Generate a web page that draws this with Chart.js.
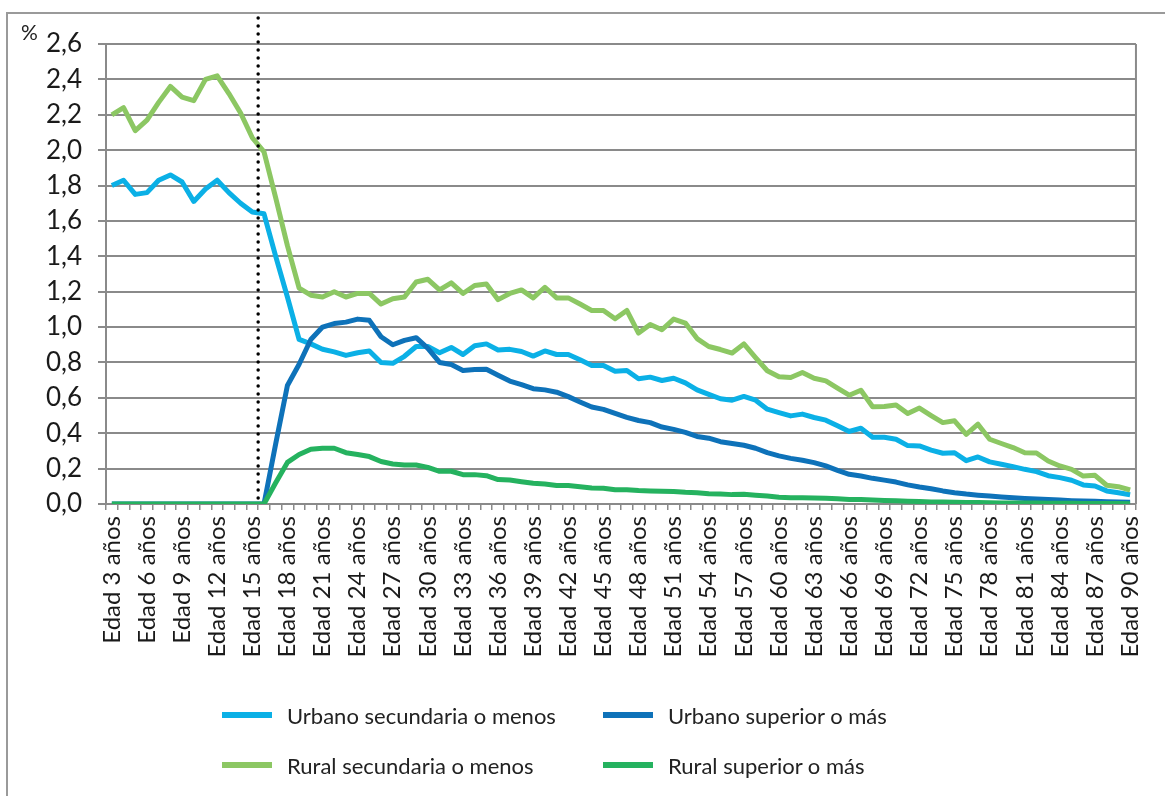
<!DOCTYPE html>
<html lang="es">
<head>
<meta charset="utf-8">
<title>Distribución por edad</title>
<script src="https://cdn.jsdelivr.net/npm/chart.js@4.4.1/dist/chart.umd.min.js"></script>
<style>
  body { margin: 0; background: #fff; font-family: Lato, "Open Sans", sans-serif; }
  #wrap { position: relative; width: 1165px; height: 796px; overflow: hidden; }
  #frame { position: absolute; left: 6px; top: 12px; width: 1200px; height: 900px;
           border-left: 2px solid #9a9a9a; border-top: 2px solid #9a9a9a; }
  #pct { position: absolute; left: 21px; top: 19px; font-size: 21px; color: #222; }
  #legend { position: absolute; left: 222px; top: 690px; display: grid;
            grid-template-columns: 381px auto; grid-auto-rows: 50px; }
  .item { display: flex; align-items: center; font-size: 22px; color: #222; }
  .swatch { display: inline-block; width: 50px; height: 6px; margin-right: 15px; }
</style>
</head>
<body>
<div id="wrap">
  <div id="frame"></div>
  <canvas id="lineChart" width="1165" height="796"></canvas>
  <div id="pct">%</div>
  <div id="legend"></div>
</div>
<script>
// categories: Edad 3 años ... Edad 90 años
const ages = [];
for (let a = 3; a <= 90; a++) ages.push("Edad " + a + " años");

// values (%)
const urbanoSecundaria = [
  1.80, 1.83, 1.75, 1.76, 1.83, 1.86, 1.82, 1.71, 1.78, 1.83,
  1.76, 1.70, 1.65, 1.64, 1.40, 1.17, 0.93, 0.905, 0.875, 0.86,
  0.84, 0.855, 0.865, 0.80, 0.795, 0.835, 0.89, 0.89, 0.855, 0.885,
  0.845, 0.895, 0.905, 0.87, 0.874, 0.862, 0.836, 0.865, 0.845, 0.845,
  0.815, 0.783, 0.783, 0.75, 0.755, 0.708, 0.717, 0.698, 0.711, 0.685,
  0.645, 0.62, 0.595, 0.587, 0.608, 0.587, 0.536, 0.517, 0.498, 0.508,
  0.489, 0.474, 0.442, 0.41, 0.428, 0.377, 0.377, 0.366, 0.33, 0.328,
  0.305, 0.287, 0.29, 0.245, 0.266, 0.238, 0.225, 0.211, 0.196, 0.183,
  0.16, 0.149, 0.134, 0.108, 0.102, 0.074, 0.064, 0.052
];
const urbanoSuperior = [
  0, 0, 0, 0, 0, 0, 0, 0, 0, 0,
  0, 0, 0, 0, 0.34, 0.67, 0.79, 0.93, 1.00, 1.02,
  1.028, 1.045, 1.038, 0.945, 0.90, 0.925, 0.94, 0.88, 0.80, 0.788,
  0.755, 0.76, 0.762, 0.728, 0.695, 0.675, 0.652, 0.645, 0.632, 0.607,
  0.577, 0.548, 0.535, 0.512, 0.49, 0.472, 0.46, 0.435, 0.422, 0.405,
  0.382, 0.372, 0.352, 0.342, 0.332, 0.315, 0.29, 0.272, 0.258, 0.247,
  0.234, 0.215, 0.19, 0.168, 0.158, 0.145, 0.135, 0.124, 0.108, 0.096,
  0.086, 0.074, 0.064, 0.056, 0.05, 0.045, 0.04, 0.035, 0.031, 0.028,
  0.025, 0.022, 0.019, 0.017, 0.015, 0.013, 0.011, 0.01
];
const ruralSecundaria = [
  2.20, 2.24, 2.11, 2.17, 2.27, 2.36, 2.30, 2.28, 2.40, 2.42,
  2.32, 2.21, 2.07, 1.99, 1.73, 1.46, 1.22, 1.18, 1.17, 1.20,
  1.17, 1.19, 1.19, 1.13, 1.16, 1.17, 1.255, 1.27, 1.21, 1.25,
  1.19, 1.235, 1.243, 1.155, 1.19, 1.21, 1.165, 1.225, 1.165, 1.165,
  1.13, 1.094, 1.094, 1.047, 1.094, 0.966, 1.015, 0.985, 1.045, 1.023,
  0.935, 0.89, 0.873, 0.853, 0.905, 0.828, 0.753, 0.719, 0.715, 0.743,
  0.711, 0.696, 0.655, 0.615, 0.643, 0.55, 0.551, 0.56, 0.511, 0.542,
  0.50, 0.46, 0.47, 0.394, 0.451, 0.366, 0.342, 0.319, 0.29, 0.288,
  0.243, 0.215, 0.196, 0.158, 0.162, 0.106, 0.098, 0.079
];
const ruralSuperior = [
  0, 0, 0, 0, 0, 0, 0, 0, 0, 0,
  0, 0, 0, 0, 0.12, 0.235, 0.28, 0.31, 0.315, 0.315,
  0.29, 0.28, 0.268, 0.24, 0.226, 0.22, 0.22, 0.207, 0.185, 0.185,
  0.166, 0.166, 0.16, 0.138, 0.136, 0.126, 0.117, 0.113, 0.105, 0.104,
  0.098, 0.09, 0.089, 0.08, 0.081, 0.076, 0.074, 0.072, 0.071, 0.066,
  0.064, 0.058, 0.056, 0.053, 0.055, 0.05, 0.045, 0.038, 0.036, 0.035,
  0.034, 0.032, 0.03, 0.026, 0.025, 0.023, 0.02, 0.018, 0.016, 0.014,
  0.012, 0.011, 0.01, 0.009, 0.008, 0.007, 0.006, 0.006, 0.005, 0.005,
  0.004, 0.004, 0.004, 0.003, 0.003, 0.003, 0.003, 0.002
];

const seriesNames = ["Urbano secundaria o menos", "Urbano superior o más",
                     "Rural secundaria o menos", "Rural superior o más"];
const seriesColors = ["#0bb0e6", "#0e72b9", "#8cc763", "#25b25f"];
const markerAge = "Edad 15 años"; // dotted line after this age

const gridColor = "#8a8a8a";

// dotted vertical line + right frame of the plot area
const extras = {
  id: "extras",
  afterDatasetsDraw(chart) {
    const { ctx, chartArea, scales } = chart;
    ctx.save();
    ctx.strokeStyle = gridColor;
    ctx.lineWidth = 2;
    ctx.beginPath();
    ctx.moveTo(chartArea.right, chartArea.top);
    ctx.lineTo(chartArea.right, chartArea.bottom);
    ctx.stroke();

    const x = scales.x.getPixelForValue(ages.indexOf(markerAge) + 0.5);
    ctx.strokeStyle = "#000";
    ctx.lineWidth = 3.5;
    ctx.lineCap = "round";
    ctx.setLineDash([0, 8]);
    ctx.beginPath();
    ctx.moveTo(x, 18);
    ctx.lineTo(x, chartArea.bottom);
    ctx.stroke();
    ctx.restore();
  }
};

const ctxLine = document.getElementById("lineChart");
const chart = new Chart(ctxLine, {
  type: "line",
  data: {
    labels: ages,
    datasets: [urbanoSecundaria, urbanoSuperior, ruralSecundaria, ruralSuperior].map((d, i) => ({
      label: seriesNames[i],
      data: d,
      borderColor: seriesColors[i],
      backgroundColor: seriesColors[i],
      borderWidth: 5,
      pointRadius: 0,
      tension: 0,
      borderJoinStyle: "round",
      order: 4 - i
    }))
  },
  options: {
    responsive: false,
    devicePixelRatio: 1,
    animation: false,
    layout: { padding: { left: 0, top: 44, right: 17, bottom: 112 } },
    plugins: { legend: { display: false }, tooltip: { enabled: false } },
    scales: {
      x: {
        offset: true,
        grid: { offset: true, drawOnChartArea: false, drawTicks: true, tickLength: 6, color: gridColor, lineWidth: 1.5 },
        border: { color: gridColor, width: 2 },
        ticks: {
          autoSkip: false, minRotation: 90, maxRotation: 90, padding: 6,
          color: "#1a1a1a",
          font: { family: "Lato", size: 24 },
          callback: (v, i) => (i % 3 === 0 ? ages[i] : "")
        },
        afterFit: s => { s.height = 180; }
      },
      y: {
        min: 0, max: 2.6,
        grid: { color: gridColor, lineWidth: 2, tickLength: 8 },
        border: { color: gridColor, width: 2 },
        ticks: {
          stepSize: 0.2, padding: 16,
          color: "#1a1a1a",
          font: { family: "Lato", size: 26 },
          callback: v => v.toFixed(1).replace(".", ",")
        },
        afterFit: s => { s.width = 106; }
      }
    }
  },
  plugins: [extras]
});

// legend built from the datasets, laid out in two columns
const legendEl = document.getElementById("legend");
chart.data.datasets.forEach(ds => {
  const item = document.createElement("div");
  item.className = "item";
  const sw = document.createElement("span");
  sw.className = "swatch";
  sw.style.background = ds.borderColor;
  item.appendChild(sw);
  item.appendChild(document.createTextNode(ds.label));
  legendEl.appendChild(item);
});
</script>
</body>
</html>
